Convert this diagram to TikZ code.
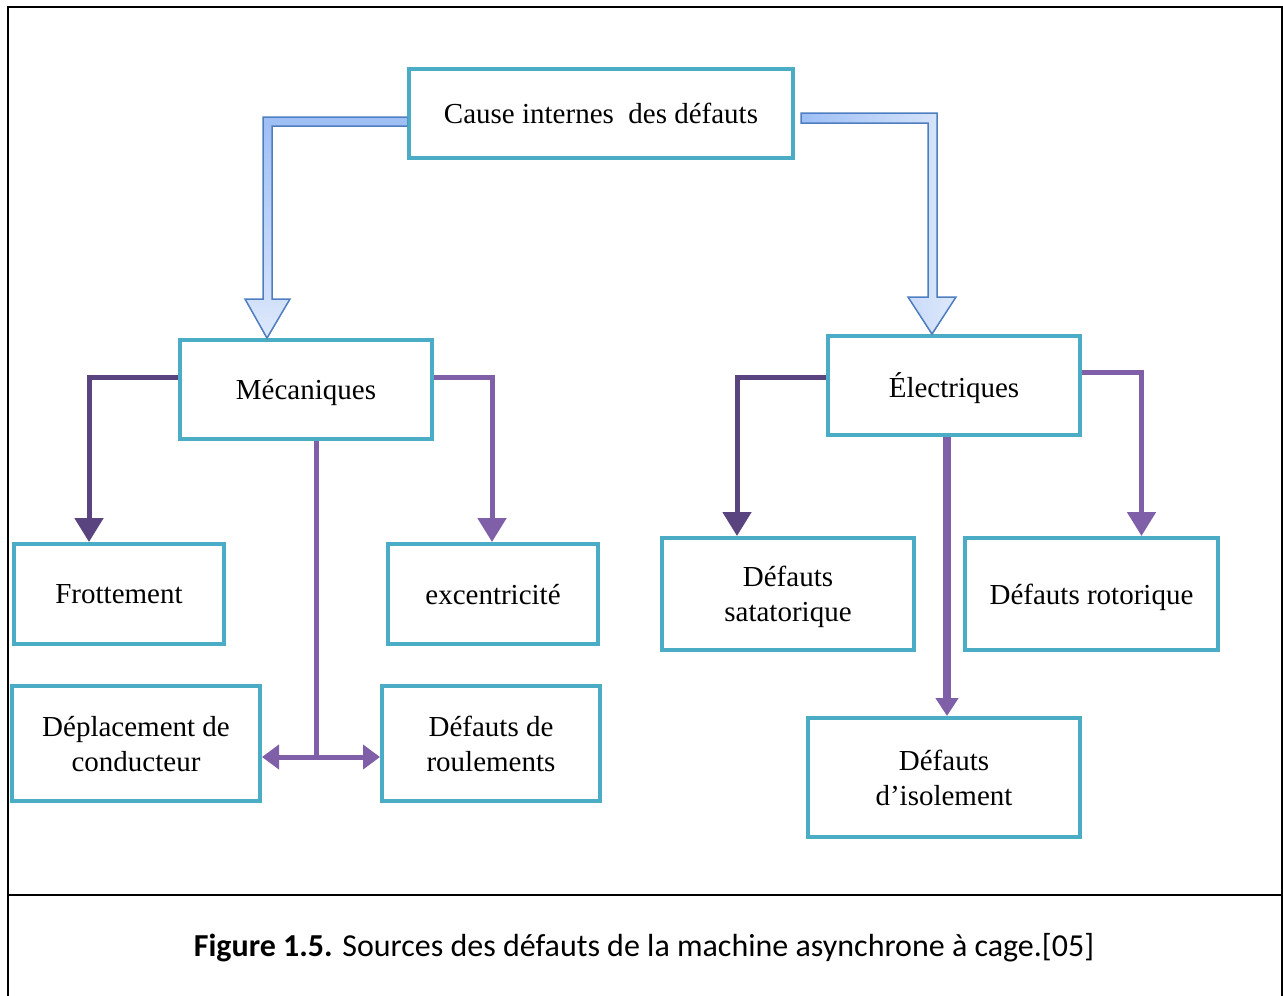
\documentclass[tikz,border=0pt]{standalone}
\usepackage{fontspec}
\setmainfont{Liberation Serif}
\newfontfamily\capfont{Carlito}
\usetikzlibrary{arrows.meta,calc}
\definecolor{teal}{HTML}{4BACC6}
\definecolor{purp}{HTML}{7F60A8}
\definecolor{purpd}{HTML}{5A4480}
\definecolor{bluebd}{HTML}{4F7EC0}
\definecolor{blueA}{HTML}{9EBFF5}
\definecolor{blueB}{HTML}{DDE8FB}
\tikzset{
  box/.style={draw=teal, line width=4pt, fill=white, inner sep=0pt, align=center,
              text depth=-4pt, font=\fontsize{29}{35}\selectfont},
  pm/.style={draw=purp, line width=5pt},
  pl/.style={draw=purpd, line width=5pt, -{Triangle[width=28pt,length=24pt]}},
  pr/.style={draw=purp, line width=5pt, -{Triangle[width=28pt,length=24pt]}},
  pb/.style={draw=purp, line width=8pt, -{Triangle[width=22pt,length=18pt]}},
  pd/.style={draw=purp, line width=5pt, {Triangle[width=24pt,length=17pt]}-{Triangle[width=24pt,length=17pt]}},
  bigarrow/.style={draw=bluebd, line width=1.5pt, line join=miter},
}
\begin{document}
\begin{tikzpicture}[x=1pt,y=-1pt]
\useasboundingbox (0,0) rectangle (1283,996);
% frame
\draw[line width=2pt] (7.5,996) -- (7.5,7) -- (1281.5,7) -- (1281.5,996);
\draw[line width=2pt] (7.5,895) -- (1281.5,895);

% nodes
\node[box, minimum width=384pt, minimum height=89pt] (cause) at (601,113.5) {Cause internes\ \ des défauts};
\node[box, minimum width=252pt, minimum height=99pt] (mec) at (306,389.5) {Mécaniques};
\node[box, minimum width=252pt, minimum height=99pt] (elec) at (954,385.5) {Électriques};
\node[box, minimum width=210pt, minimum height=100pt] (frot) at (119,594) {Frottement};
\node[box, minimum width=210pt, minimum height=100pt] (exc) at (493,594) {excentricité};
\node[box, minimum width=248pt, minimum height=115pt] (dep) at (136,743.5) {Déplacement de\\conducteur};
\node[box, minimum width=218pt, minimum height=115pt] (roul) at (491,743.5) {Défauts de\\roulements};
\node[box, minimum width=252pt, minimum height=112pt] (stat) at (788,594) {Défauts\\satatorique};
\node[box, minimum width=253pt, minimum height=112pt] (rot) at (1091.5,594) {Défauts rotorique};
\node[box, minimum width=272pt, minimum height=119pt] (iso) at (944,777.5) {Défauts\\d’isolement};

% big blue arrows
\fill[top color=blueA, bottom color=blueB]
  (407,117) -- (263,117) -- (263,299) -- (245,299) -- (267,339) -- (290,299) -- (272,299) -- (272,126) -- (407,126) -- cycle;
\draw[bigarrow]
  (cause.west |- 0,117) -- (263,117) -- (263,299) -- (245,299) -- (mec.north -| 267,0) -- (290,299) -- (272,299) -- (272,126) -- (cause.west |- 0,126);
\fill[left color=blueA, right color=blueB]
  (801,113) -- (937,113) -- (937,297) -- (956,297) -- (932,335) -- (908,297) -- (928,297) -- (928,123) -- (801,123) -- cycle;
\draw[bigarrow]
  (801,113) -- (937,113) -- (937,297) -- (956,297) -- (elec.north -| 932,0) -- (908,297) -- (928,297) -- (928,123) -- (801,123) -- cycle;

% purple connectors
\draw[pl] ([yshift=12.5pt]mec.west) -| ([xshift=-30pt]frot.north);
\draw[pr] ([yshift=12.5pt]mec.east) -| ([xshift=-1pt]exc.north);
\coordinate (mj) at (316,757);
\draw[pm] ([xshift=10pt]mec.south) -- (mj);
\draw[pd] ([yshift=-13.5pt]dep.east) -- ([yshift=-13.5pt]roul.west);
\draw[pl] ([yshift=8.5pt]elec.west) -| ([xshift=-51pt]stat.north);
\draw[pr] ([yshift=13.5pt]elec.east) -| ([xshift=50pt]rot.north);
\draw[pb] ([xshift=-7pt]elec.south) -- ([xshift=3pt]iso.north);

% caption
\node[font=\capfont\fontsize{32}{38}\selectfont] (cap) at (644,948) {\textbf{Figure 1.5.} Sources des défauts de la machine asynchrone à cage.[05]};
\end{tikzpicture}
\end{document}
